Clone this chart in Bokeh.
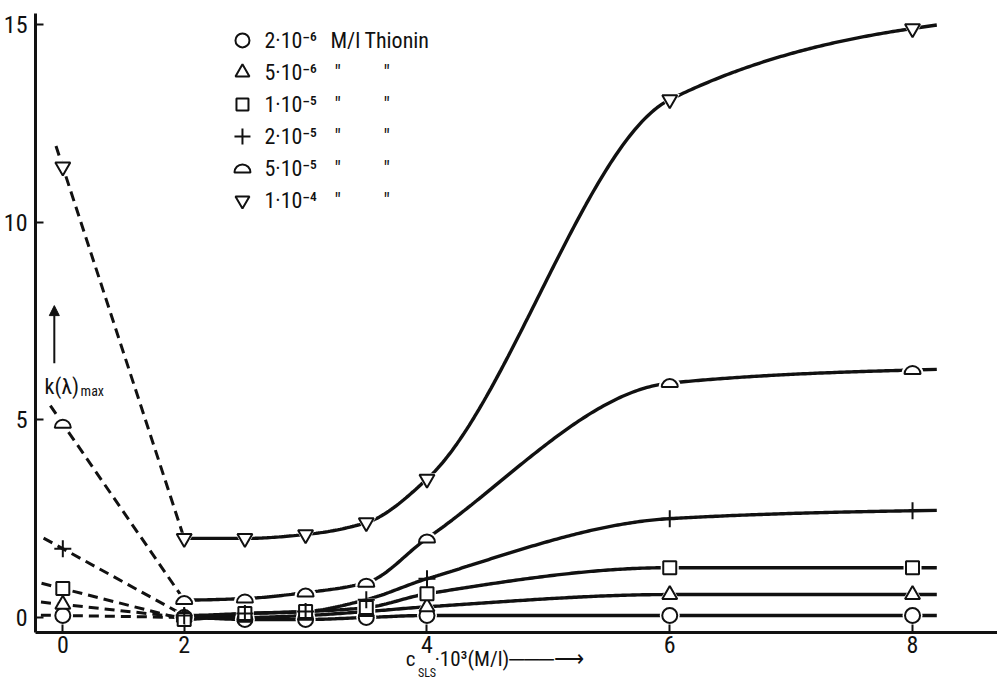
import numpy as np
from bokeh.plotting import figure
from bokeh.models import FixedTicker, Label, Arrow, NormalHead, ColumnDataSource, LinearAxis
from bokeh.core.properties import value
from bokeh.embed import file_html
from bokeh.resources import INLINE

# ---------------- data ----------------
x_sls = [0, 2, 2.5, 3, 3.5, 4, 6, 8]          # c_SLS * 10^3 (M/l)
k_2e6 = [0.05, 0.0, -0.05, -0.05, 0.0, 0.05, 0.05, 0.05]
k_5e6 = [0.33, 0.0, 0.0, 0.05, 0.15, 0.27, 0.58, 0.58]
k_1e5 = [0.73, -0.05, 0.1, 0.15, 0.25, 0.6, 1.26, 1.26]
k_2e5 = [1.74, 0.05, 0.1, 0.15, 0.45, 0.98, 2.5, 2.7]
k_5e5 = [4.9, 0.44, 0.48, 0.63, 0.88, 2.0, 5.93, 6.26]
k_1e4 = [11.4, 2.0, 2.0, 2.1, 2.4, 3.5, 13.1, 14.9]
conc_labels = ["2·10⁻⁶", "5·10⁻⁶", "1·10⁻⁵", "2·10⁻⁵", "5·10⁻⁵", "1·10⁻⁴"]
unit_label = "M/l"
dye_label = "Thionin"
ditto = "″"
x_ticks = [0, 2, 4, 6, 8]
y_ticks = [0, 5, 10, 15]
x_title_main = "c"
x_title_sub = "SLS"
x_title_rest = "·10³(M/l)───⟶"
y_title_main = "k(λ)"
y_title_sub = "max"

series = [k_2e6, k_5e6, k_1e5, k_2e5, k_5e5, k_1e4]
markers = ["circle", "triangle", "square", "cross", "half", "inverted_triangle"]

# ---------------- layout / style ----------------
W, H = 997, 682
BL, BR, BT, BB = 33, 0, 13, 50
X0, X1 = 0.775, 8.70
Y0, Y1 = -0.38, 15.28
ZERO_POS = 1.0            # broken x axis: the value 0 is drawn at position 1
PX_X = (W - BL - BR) / (X1 - X0)
PX_Y = (H - BT - BB) / (Y1 - Y0)
INK = "#111111"
FONT = "'Roboto Condensed', Roboto, sans-serif"
EXT_PX = 22               # dashed line overshoot beyond the x=0 point
STUB = 0.2                # short continuation after the last point
MSIZE = {"circle": 15, "triangle": 15, "square": 13, "cross": 17, "inverted_triangle": 15}
HALF_R = 8
NB = "\u00a0"


def xpos(xs):
    return [ZERO_POS if v == 0 else float(v) for v in xs]


def pchip(xk, yk, xs):
    xk = np.asarray(xk, float)
    yk = np.asarray(yk, float)
    h = np.diff(xk)
    d = np.diff(yk) / h
    m = np.zeros_like(yk)
    for i in range(1, len(xk) - 1):
        if d[i - 1] * d[i] > 0:
            w1 = 2 * h[i] + h[i - 1]
            w2 = h[i] + 2 * h[i - 1]
            m[i] = (w1 + w2) / (w1 / d[i - 1] + w2 / d[i])
    m[0] = 0.0
    m[-1] = 0.5 * d[-1]
    idx = np.clip(np.searchsorted(xk, xs) - 1, 0, len(xk) - 2)
    t = (xs - xk[idx]) / h[idx]
    h00 = 2 * t**3 - 3 * t**2 + 1
    h10 = t**3 - 2 * t**2 + t
    h01 = -2 * t**3 + 3 * t**2
    h11 = t**3 - t**2
    ys = h00 * yk[idx] + h10 * h[idx] * m[idx] + h01 * yk[idx + 1] + h11 * h[idx] * m[idx + 1]
    return ys, m


p = figure(width=W, height=H, output_backend="svg", toolbar_location=None,
           x_range=(X0, X1), y_range=(Y0, Y1),
           min_border_left=BL, min_border_right=BR, min_border_top=BT, min_border_bottom=BB)
p.outline_line_color = None
p.grid.visible = False
p.background_fill_color = "white"
p.border_fill_color = "white"

# axes
p.xaxis.ticker = FixedTicker(ticks=xpos(x_ticks))
p.xaxis.major_label_overrides = {ZERO_POS: "0"}
p.yaxis.ticker = FixedTicker(ticks=y_ticks)
for ax in (p.xaxis[0], p.yaxis[0]):
    ax.axis_line_width = 3
    ax.axis_line_color = INK
    ax.major_tick_in = 8
    ax.major_tick_out = 0
    ax.major_tick_line_width = 2
    ax.major_tick_line_color = INK
    ax.minor_tick_line_color = None
    ax.major_label_text_font = FONT
    ax.major_label_text_font_size = "24px"
    ax.major_label_text_color = INK
p.xaxis.major_label_standoff = 3
p.yaxis.major_label_standoff = 8

# x-axis title: c_SLS · 10³(M/l) ——→  (main row as axis label, subscript on a bare second axis)
xa = p.xaxis[0]
xa.axis_label = x_title_main + NB * 4 + x_title_rest + NB * 9
xa.axis_label_text_font = FONT
xa.axis_label_text_font_size = "21px"
xa.axis_label_text_font_style = "normal"
xa.axis_label_text_color = INK
xa.axis_label_standoff = -9

sub_axis = LinearAxis(ticker=FixedTicker(ticks=[]), axis_line_color=None,
                      major_tick_line_color=None, minor_tick_line_color=None,
                      major_label_text_font_size="0px", major_tick_out=0, major_tick_in=0,
                      major_label_standoff=0,
                      axis_label=x_title_sub + NB * 65, axis_label_text_font=FONT,
                      axis_label_text_font_size="12px", axis_label_text_font_style="normal",
                      axis_label_text_color=INK, axis_label_standoff=-8)
p.add_layout(sub_axis, "below")

# lines
xp = xpos(x_sls)
for ys in series:
    dx = (xp[1] - xp[0]) * PX_X
    dy = (ys[1] - ys[0]) * PX_Y
    L = np.hypot(dx, dy)
    ex = xp[0] - dx / L * EXT_PX / PX_X
    ey = ys[0] - dy / L * EXT_PX / PX_Y
    p.line([ex, xp[1]], [ey, ys[1]], line_dash="10 6", line_width=3, line_color=INK)
    xs = np.linspace(x_sls[1], x_sls[-1], 300)
    yc, m = pchip(x_sls[1:], ys[1:], xs)
    xs = np.append(xs, x_sls[-1] + STUB)
    yc = np.append(yc, ys[-1] + m[-1] * STUB)
    p.line(xs, yc, line_width=3.4, line_color=INK)

# half-disc markers are anchored at their visual middle
HALF_DY = (HALF_R / 2) / PX_Y

# white halos (small gaps around markers)
for ys, mk in zip(series, markers):
    if mk == "half":
        p.wedge(xp, [v - HALF_DY for v in ys], radius=HALF_R + 3, radius_units="screen",
                start_angle=0, end_angle=np.pi, fill_color="white", line_color=None)
    elif mk != "cross":
        p.scatter(xp, ys, marker=mk, size=MSIZE[mk] + 5, fill_color="white", line_color=None)

# markers
for ys, mk in zip(series, markers):
    if mk == "half":
        p.wedge(xp, [v - HALF_DY for v in ys], radius=HALF_R, radius_units="screen",
                start_angle=0, end_angle=np.pi, fill_color="white", line_color=INK, line_width=2)
    else:
        p.scatter(xp, ys, marker=mk, size=MSIZE[mk], fill_color="white", line_color=INK, line_width=2)

# legend (drawn like the original: markers, texts and ditto marks)
LEG_X = 2.48
LEG_TOP = 14.6
LEG_DY = 0.81
rows = [LEG_TOP - i * LEG_DY for i in range(len(conc_labels))]
for r, mk in zip(rows, markers):
    if mk == "half":
        p.wedge([LEG_X], [r - HALF_DY], radius=HALF_R, radius_units="screen", start_angle=0,
                end_angle=np.pi, fill_color="white", line_color=INK, line_width=2)
    else:
        p.scatter([LEG_X], [r], marker=mk, size=MSIZE[mk] - 1, fill_color="white", line_color=INK,
                  line_width=2)
leg_src = ColumnDataSource(dict(x=[LEG_X] * len(rows), y=rows, text=conc_labels))
p.text("x", "y", "text", source=leg_src, x_offset=22, text_baseline="middle",
       text_font=value(FONT), text_font_size="22px", text_color=INK)
p.text([LEG_X], [rows[0]], [unit_label], x_offset=88, text_baseline="middle",
       text_font=value(FONT), text_font_size="22px", text_color=INK)
p.text([LEG_X], [rows[0]], [dye_label], x_offset=122, text_baseline="middle",
       text_font=value(FONT), text_font_size="22px", text_color=INK)
p.text([LEG_X] * 5, rows[1:], [ditto] * 5, x_offset=92, text_baseline="middle",
       text_font=value(FONT), text_font_size="20px", text_color=INK)
p.text([LEG_X] * 5, rows[1:], [ditto] * 5, x_offset=141, text_baseline="middle",
       text_font=value(FONT), text_font_size="20px", text_color=INK)

# y-axis title: k(λ)max with an upward arrow
YT_X, YT_Y = 0.85, 5.84
p.add_layout(Label(x=YT_X, y=YT_Y, text=y_title_main, text_font=FONT, text_font_size="22px",
                   text_color=INK, text_baseline="alphabetic"))
p.add_layout(Label(x=YT_X, y=YT_Y, x_offset=36, y_offset=-4, text=y_title_sub, text_font=FONT,
                   text_font_size="14px", text_color=INK, text_baseline="alphabetic"))
p.add_layout(Arrow(x_start=0.93, y_start=6.43, x_end=0.93, y_end=7.89, line_width=2, line_color=INK,
                   end=NormalHead(size=10, fill_color=INK, line_color=INK)))

open("out.html", "w").write(file_html(p, INLINE))
